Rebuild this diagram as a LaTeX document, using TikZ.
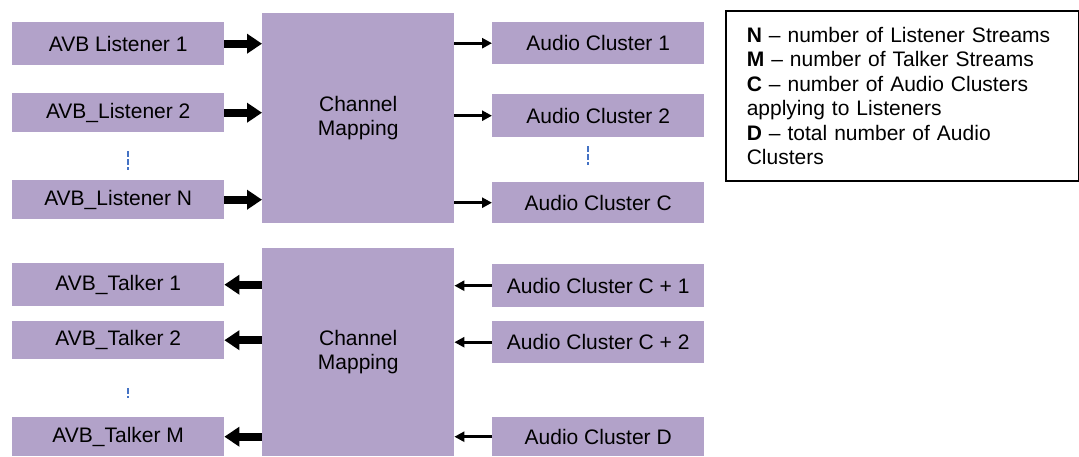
\documentclass[tikz,border=0pt]{standalone}
\usepackage{fontspec}
\setmainfont{Liberation Sans}
\usetikzlibrary{arrows.meta}
\definecolor{lav}{RGB}{178,162,201}
\definecolor{dotblue}{RGB}{68,114,196}

\begin{document}
\begin{tikzpicture}[x=1pt, y=-1pt,
  every node/.style = {font=\fontsize{21}{24.5}\selectfont},
  unit/.style = {fill=lav, anchor=north west, minimum width=212pt,
    inner sep=0pt},
  mapbox/.style = {fill=lav, anchor=north west, minimum width=192pt,
    align=center, inner sep=0pt},
  fat/.style = {line width=8pt, -{Triangle[length=15pt,width=19pt]}},
  slim/.style = {line width=3pt, -{Triangle[length=10pt,width=10pt]}},
  vgap/.style = {dotblue, line width=2pt, dash pattern=on 6pt off 2pt}]
  \useasboundingbox (0,0) rectangle (1079,456);

  % listeners -> mapping -> clusters
  \node[unit, minimum height=43pt] (l1) at (12,22) {AVB Listener 1};
  \node[unit, minimum height=39pt] (l2) at (12,93) {AVB\_Listener 2};
  \node[unit, minimum height=39pt] (ln) at (12,180) {AVB\_Listener N};
  \node[mapbox, minimum height=210pt] (map1) at (262,13) {Channel\\Mapping};
  \node[unit, minimum height=42pt] (c1) at (492,22) {Audio Cluster 1};
  \node[unit, minimum height=43pt] (c2) at (492,94) {Audio Cluster 2};
  \node[unit, minimum height=41pt] (cc) at (492,182) {Audio Cluster C};

  \draw[fat] (l1.east) -- (l1.east -| map1.west);
  \draw[fat] (l2.east) -- (l2.east -| map1.west);
  \draw[fat] (ln.east) -- (ln.east -| map1.west);
  \draw[slim] (c1.west -| map1.east) -- (c1.west);
  \draw[slim] (c2.west -| map1.east) -- (c2.west);
  \draw[slim] (cc.west -| map1.east) -- (cc.west);
  \draw[vgap] ([xshift=10pt,yshift=-19pt]l2.south)
    -- ([xshift=10pt,yshift=10pt]ln.north);
  \draw[vgap] ([xshift=-10pt,yshift=-9pt]c2.south)
    -- ([xshift=-10pt,yshift=17pt]cc.north);

  % clusters -> mapping -> talkers
  \node[unit, minimum height=43pt] (t1) at (12,263) {AVB\_Talker 1};
  \node[unit, minimum height=38pt] (t2) at (12,321) {AVB\_Talker 2};
  \node[unit, minimum height=39pt] (tm) at (12,417) {AVB\_Talker M};
  \node[mapbox, minimum height=208pt] (map2) at (262,248) {Channel\\Mapping};
  \node[unit, minimum height=43pt] (c3) at (492,264) {Audio Cluster C + 1};
  \node[unit, minimum height=42pt] (c4) at (492,321) {Audio Cluster C + 2};
  \node[unit, minimum height=39pt] (cd) at (492,417) {Audio Cluster D};

  \draw[fat] (t1.east -| map2.west) -- (t1.east);
  \draw[fat] (t2.east -| map2.west) -- (t2.east);
  \draw[fat] (tm.east -| map2.west) -- (tm.east);
  \draw[slim] (c3.west) -- (c3.west -| map2.east);
  \draw[slim] (c4.west) -- (c4.west -| map2.east);
  \draw[slim] (cd.west) -- (cd.west -| map2.east);
  \draw[vgap] ([xshift=10pt,yshift=-29pt]t2.south)
    -- ([xshift=10pt,yshift=19pt]tm.north);

  % key
  \node[draw, line width=1.5pt, anchor=north west, minimum height=170pt,
    text width=311pt, inner xsep=21pt, align=left] (key) at (725,10)
    {\textbf{N} -- number of Listener Streams\\
     \textbf{M} -- number of Talker Streams\\
     \textbf{C} -- number of Audio Clusters\\
     applying to Listeners\\
     \textbf{D} -- total number of Audio\\
     Clusters};
\end{tikzpicture}
\end{document}
